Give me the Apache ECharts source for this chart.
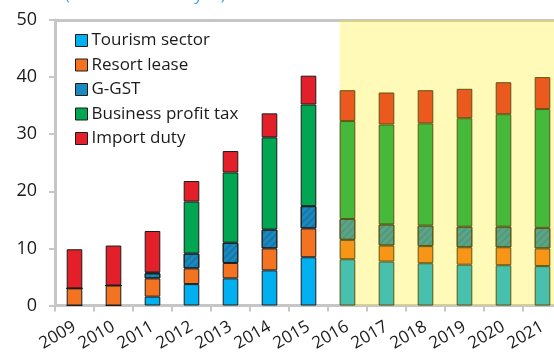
<!DOCTYPE html>
<html>
<head>
<meta charset="utf-8">
<script src="https://cdn.jsdelivr.net/npm/echarts@6/dist/echarts.min.js"></script>
<style>
  html, body { margin: 0; padding: 0; background: #fff; overflow: hidden; }
  /* plot runs slightly past the right edge of the window */
  #chart { width: 562px; height: 359px; }
</style>
</head>
<body>
<div id="chart"></div>
<script>
// Government revenue by source, billions, 2009-2015 actual and 2016-2021 projected
const years = ['2009','2010','2011','2012','2013','2014','2015','2016','2017','2018','2019','2020','2021'];
const tourismSector     = [0,   0,   1.55, 3.75, 4.75, 6.15, 8.45, 8.1,  7.7,  7.4,  7.15, 7.05, 6.9];
const resortLease       = [3.0, 3.5, 3.2,  2.75, 2.7,  3.85, 5.05, 3.4,  2.8,  3.0,  3.05, 3.15, 3.1];
const gGst              = [0,   0,   0.9,  2.6,  3.55, 3.3,  3.9,  3.65, 3.7,  3.6,  3.6,  3.6,  3.6];
const businessProfitTax = [0,   0,   0.15, 9.1,  12.3, 16.15,17.8, 17.15,17.5, 17.9, 19.0, 19.7, 20.8];
const importDuty        = [6.85,7.0, 7.25, 3.6,  3.75, 4.2,  5.05, 5.4,  5.6,  5.8,  5.15, 5.6,  5.6];

// first projected year begins part-way into its category slot
const forecastStart = 7.3;

const seriesDefs = [
  { name: 'Tourism sector',      data: tourismSector,     color: '#00b0f0' },
  { name: 'Resort lease',        data: resortLease,       color: '#f47321' },
  { name: 'G-GST',               data: gGst,              color: '#1a89bd',
    decal: { symbol: 'rect', dashArrayX: [1, 0], dashArrayY: [2, 3], rotation: -Math.PI / 4, color: 'rgba(0,40,80,0.18)' } },
  { name: 'Business profit tax', data: businessProfitTax, color: '#00a651' },
  { name: 'Import duty',         data: importDuty,        color: '#e3202a' }
];

const chart = echarts.init(document.getElementById('chart'), null, { renderer: 'canvas' });

const font = '"Open Sans", "Noto Sans", sans-serif';

const barSeries = seriesDefs.map(d => ({
  name: d.name,
  type: 'bar',
  stack: 'total',
  barWidth: '40%',
  data: d.data,
  z: 2,
  itemStyle: { color: d.color, borderColor: '#1c1c1c', borderWidth: 1, decal: d.decal || null },
  emphasis: { disabled: true }
}));

// translucent yellow wash over the projection years, drawn above the bars
barSeries.push({
  name: 'projection',
  type: 'scatter',
  xAxisIndex: 1,
  data: [],
  z: 10,
  silent: true,
  markArea: {
    silent: true,
    z: 10,
    itemStyle: { color: 'rgba(255, 236, 0, 0.28)' },
    data: [[{ xAxis: forecastStart, yAxis: 0 }, { xAxis: years.length, yAxis: 50 }]]
  }
});

chart.setOption({
  animation: false,
  textStyle: { fontFamily: font },
  title: {
    text: '(In billions of rufiyaa)',
    left: 60,
    top: -18,
    textStyle: { fontFamily: font, fontSize: 16.5, fontWeight: 'normal', color: '#3aa6dc' }
  },
  legend: {
    orient: 'vertical',
    left: 70,
    top: 27,
    itemWidth: 12,
    itemHeight: 12,
    itemGap: 7.5,
    icon: 'rect',
    data: seriesDefs.map(d => d.name),
    textStyle: { fontFamily: font, fontSize: 17, color: '#1a1a1a', padding: [0, 0, 0, -1] },
    itemStyle: { borderColor: '#1c1c1c', borderWidth: 1, decal: 'none' }
  },
  grid: { left: 55, right: 0, top: 20, bottom: 53.5 },
  xAxis: [
    {
      type: 'category',
      data: years,
      axisLine: { lineStyle: { color: '#c6c6c6', width: 3 } },
      axisTick: { show: true, length: 6, lineStyle: { color: '#c6c6c6', width: 2 } },
      axisLabel: { rotate: 30, fontSize: 17, color: '#1a1a1a', margin: 20, fontFamily: font, interval: 0 }
    },
    {
      type: 'value',
      min: 0,
      max: years.length,
      show: false
    }
  ],
  yAxis: {
    type: 'value',
    min: 0,
    max: 50,
    interval: 10,
    axisLine: { show: true, lineStyle: { color: '#c6c6c6', width: 3 } },
    axisTick: { show: true, length: 6, lineStyle: { color: '#c6c6c6', width: 2 } },
    axisLabel: { fontSize: 18, color: '#1a1a1a', margin: 18, fontFamily: font },
    splitLine: { show: true, lineStyle: { color: ['transparent', 'transparent', 'transparent', 'transparent', 'transparent', '#c6c6c6'], width: 3 } }
  },
  series: barSeries
});
</script>
</body>
</html>
